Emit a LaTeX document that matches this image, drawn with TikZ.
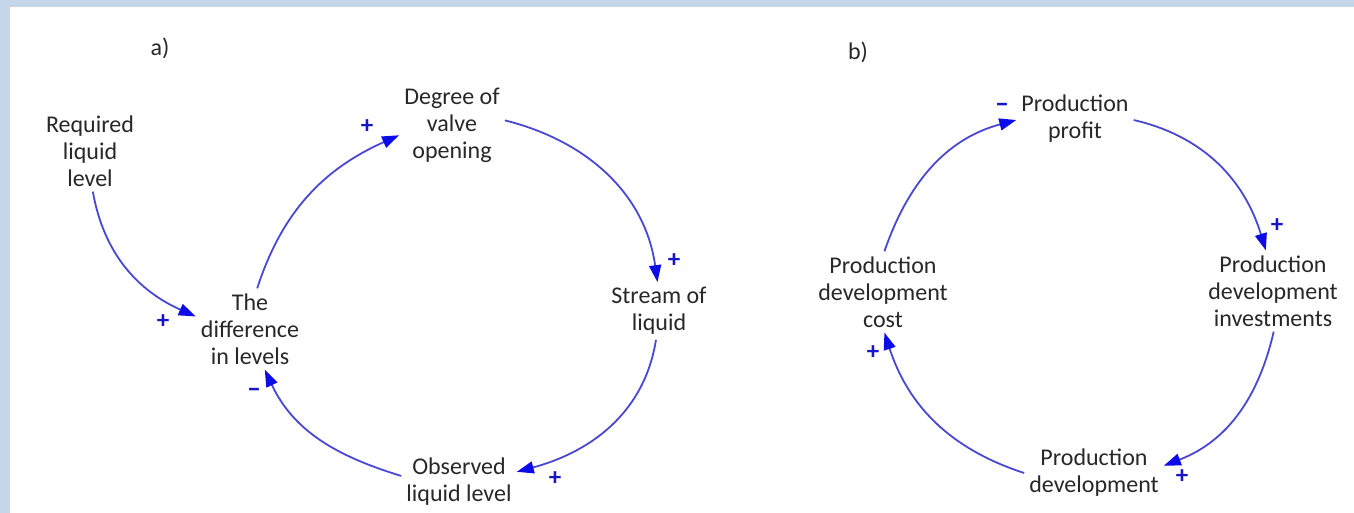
\documentclass[tikz,border=0pt]{standalone}
\usepackage{fontspec}
\setmainfont{Carlito}
\usetikzlibrary{arrows.meta}
\definecolor{lineblue}{RGB}{72,72,212}
\definecolor{headblue}{RGB}{12,12,232}
\definecolor{signblue}{RGB}{22,22,200}
\definecolor{frameblue}{RGB}{198,214,234}
\definecolor{txt}{RGB}{40,40,40}
\begin{document}
\begin{tikzpicture}[x=1pt,y=1pt,
  var/.style={align=center,font=\fontsize{24}{27}\selectfont,text=txt,inner sep=5pt},
  link/.style={draw=lineblue,line width=1.8pt,-{Triangle[length=17pt,width=12pt,fill=headblue,color=headblue]}},
  sign/.style={text=signblue,font=\fontsize{25}{25}\bfseries\selectfont,inner sep=0pt},
  minus/.style={text=signblue,font=\fontsize{28}{28}\bfseries\selectfont,inner sep=0pt},
  panel/.style={font=\fontsize{24}{27}\selectfont,text=txt}]
\useasboundingbox (0,0) rectangle (1354,-513);
\fill[frameblue] (0,0) rectangle (1354,-513);
\fill[white] (10,-7) rectangle (1354,-513);
% panel labels
\node[panel] (la) at (160,-48) {a)};
\node[panel] (lb) at (858,-52) {b)};
% panel a
\node[var] (req) at (90,-151) {Required\\liquid\\level};
\node[var] (deg) at (452,-125) {Degree of\\valve\\opening};
\node[var] (diff) at (250,-329) {The\\difference\\in levels};
\node[var] (str) at (659,-311) {Stream of\\liquid};
\node[var] (obs) at (459,-482) {Observed\\liquid level};
% panel b
\node[var] (prof) at (1075,-119) {Production\\profit};
\node[var] (inv) at (1273,-291) {Production\\development\\investments};
\node[var] (cost) at (883,-292) {Production\\development\\cost};
\node[var] (dev) at (1094,-473) {Production\\development};
% connectors a
\draw[link] (req.274) to[out=280,in=156] (diff.167);
\draw[link] (diff.80) to[out=72,in=204] (deg.191);
\draw[link] (deg.5) to[out=346,in=98] (str.93);
\draw[link] (str.264) to[out=261,in=15] (obs.10);
\draw[link] (obs.174) to[out=163,in=295] (diff.290);
% connectors b
\draw[link] (cost.88) to[out=71,in=195] (prof.181);
\draw[link] (prof.359) to[out=347,in=107] (inv.100);
\draw[link] (inv.271) to[out=257,in=21] (dev.6);
\draw[link] (dev.180) to[out=162,in=288] (cost.272);
% polarity signs
\node[sign] (s1) at (367,-127) {+};
\node[sign] (s2) at (163,-322) {+};
\node[sign] (s3) at (674,-261) {+};
\node[minus] (s4) at (254,-393) {–};
\node[sign] (s5) at (555,-479) {+};
\node[minus] (s6) at (1002,-108) {–};
\node[sign] (s7) at (1277,-226) {+};
\node[sign] (s8) at (1182,-477) {+};
\node[sign] (s9) at (873,-353) {+};
\end{tikzpicture}
\end{document}
